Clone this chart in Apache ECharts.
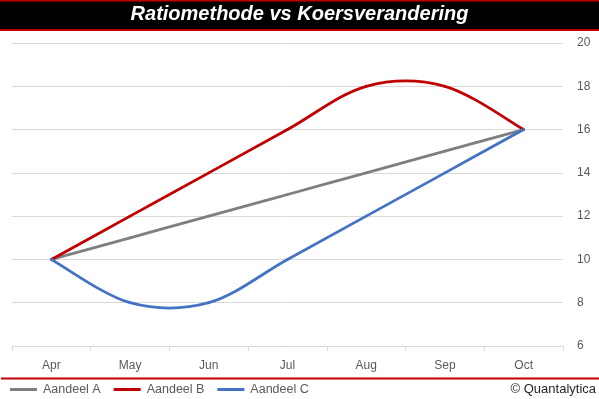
<!DOCTYPE html>
<html><head><meta charset="utf-8">
<script src="https://cdn.jsdelivr.net/npm/echarts@6/dist/echarts.min.js"></script>
<style>html,body{margin:0;padding:0;background:#fff}#c{width:599px;height:399px}</style>
</head><body><div id="c"></div>
<script>
var categories = ['Apr','May','Jun','Jul','Aug','Sep','Oct'];
var aandeelA = [10, 11, 12, 13, 14, 15, 16];
var aandeelB = [10, 12, 14, 16, 18, 18, 16];
var aandeelC = [10, 8, 8, 10, 12, 14, 16];
var seriesNames = ['Aandeel A','Aandeel B','Aandeel C'];
var titleText = 'Ratiomethode vs Koersverandering';
var credit = '\u00A9 Quantalytica';

var font = 'Liberation Sans';
var chart = echarts.init(document.getElementById('c'), null, {renderer:'canvas'});

// Excel-style smoothed line: cubic Bezier segments through the data points,
// positioned through the chart's own axes via api.coord.
function smoothSeries(name, values, color){
  return {
    name:name, type:'custom', coordinateSystem:'cartesian2d',
    data: values.map(function(v,i){ return [i, v]; }),
    encode:{x:0, y:1},
    itemStyle:{color:color},
    clip:false,
    renderItem:function(params, api){
      var i = params.dataIndex, n = values.length;
      if (i >= n - 1) return null;
      function P(k){ k = Math.max(0, Math.min(n-1, k)); return api.coord([k, values[k]]); }
      var p0 = P(i-1), p1 = P(i), p2 = P(i+1), p3 = P(i+2);
      return {
        type:'bezierCurve',
        shape:{
          x1:p1[0], y1:p1[1], x2:p2[0], y2:p2[1],
          cpx1:p1[0] + (p2[0]-p0[0])/6, cpy1:p1[1] + (p2[1]-p0[1])/6,
          cpx2:p2[0] - (p3[0]-p1[0])/6, cpy2:p2[1] - (p3[1]-p1[1])/6
        },
        style:{stroke:color, lineWidth:2.8, fill:null, lineCap:'round'}
      };
    }
  };
}

chart.setOption({
  animation:false,
  backgroundColor:'#fff',
  textStyle:{fontFamily:font},
  graphic:[
    {type:'rect', shape:{x:0,y:0,width:599,height:31}, style:{fill:'#C00000'}, z:10},
    {type:'rect', shape:{x:0,y:1.5,width:599,height:27.5}, style:{fill:'#000'}, z:11},
    {type:'text', left:'center', top:4, z:12, style:{text:titleText, fill:'#fff',
      font:'italic bold 20px "Liberation Sans"'}},
    {type:'rect', shape:{x:1,y:377.5,width:598,height:2}, style:{fill:'#C00000'}, z:10},
    {type:'text', right:3, top:383, z:12, style:{text:credit, fill:'#262626',
      font:'13px "Liberation Sans"'}}
  ],
  legend:{left:10, top:383, padding:0, itemWidth:27, itemHeight:3, icon:'rect', itemGap:13,
    textStyle:{color:'#595959', fontSize:12.5, fontFamily:font, padding:[0,0,0,1]},
    data:seriesNames},
  grid:{left:12, right:36, top:43, bottom:53, containLabel:false},
  xAxis:{type:'category', data:categories, boundaryGap:true,
    axisLine:{lineStyle:{color:'#d9d9d9', width:1}},
    axisTick:{show:true, length:5, interval:0, lineStyle:{color:'#d9d9d9'}},
    axisLabel:{color:'#595959', fontSize:12, margin:14, fontFamily:font}},
  yAxis:{type:'value', position:'right', min:6, max:20, interval:2,
    axisLine:{show:false}, axisTick:{show:false},
    splitLine:{lineStyle:{color:'#d9d9d9', width:1}},
    axisLabel:{color:'#595959', fontSize:12, margin:14, fontFamily:font}},
  series:[
    smoothSeries(seriesNames[0], aandeelA, '#7F7F7F'),
    smoothSeries(seriesNames[1], aandeelB, '#C00000'),
    smoothSeries(seriesNames[2], aandeelC, '#4472C4')
  ]
});
</script></body></html>
